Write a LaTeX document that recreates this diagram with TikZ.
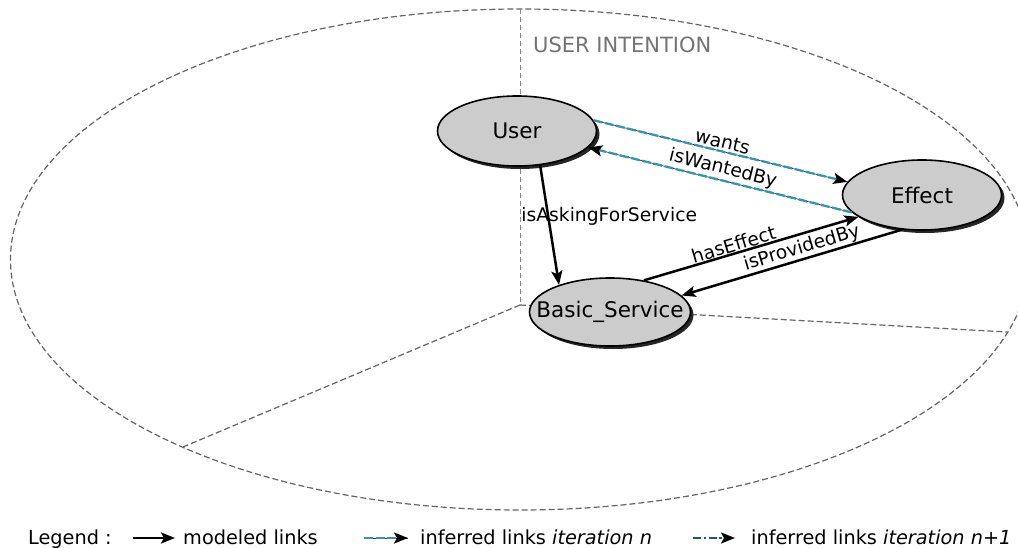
\documentclass[tikz,border=0pt]{standalone}
\usepackage{fontspec}
\setmainfont{DejaVu Sans}
\usetikzlibrary{shapes.geometric,arrows.meta,shadows}
\definecolor{nodegray}{RGB}{204,204,204}
\definecolor{zonegray}{RGB}{100,100,100}
\definecolor{zonelight}{RGB}{140,140,140}
\definecolor{titlegray}{RGB}{115,115,115}
\definecolor{inferblue}{RGB}{56,148,172}
\definecolor{infercore}{RGB}{40,60,70}
\definecolor{inferdark}{RGB}{30,90,105}
\begin{document}
\begin{tikzpicture}[x=1pt,y=-1pt,
  entity/.style={ellipse, draw=black, line width=1.6pt, fill=nodegray,
    minimum width=159pt, minimum height=70pt, inner sep=0pt,
    font=\fontsize{21.5}{25}\selectfont,
    drop shadow={shadow xshift=3pt, shadow yshift=-3pt, opacity=1, fill=black!85}},
  tipA/.style={-{Stealth[length=14pt,width=11pt,inset=3pt,color=black]}},
  modeled/.style={draw=black, line width=2.5pt, tipA},
  inferredn/.style={draw=inferblue, line width=2.3pt, dash pattern=on 9pt off 2.5pt, tipA,
    preaction={draw=infercore, line width=0.7pt, solid, arrows=-}},
  inferrednn/.style={draw=inferdark, line width=2.3pt, dash pattern=on 8pt off 2.5pt on 2.5pt off 2.5pt, tipA},
  zone/.style={draw=zonegray, line width=1.2pt, dash pattern=on 6pt off 3pt},
  zonev/.style={draw=zonelight, line width=1pt, dash pattern=on 5pt off 3pt},
  lbl/.style={font=\fontsize{18.7}{22}\selectfont, inner sep=1.5pt},
  leg/.style={font=\fontsize{19.3}{23}\selectfont, inner sep=0pt, anchor=base west}
]
\useasboundingbox (0,0) rectangle (1018,548);

% zones
\begin{scope}
  \clip (0,0) rectangle (1018,548);
  \draw[zone] (520,259.5) ellipse [x radius=509.5pt, y radius=250.5pt];
\end{scope}
\coordinate (zc) at (520,305);
\coordinate (ztop) at (520,9);
\coordinate (zleft) at (183,447);
\coordinate (zright) at (1007,332);
\draw[zonev] (ztop) -- (zc);
\draw[zone] (zc) -- (zleft);
\draw[zone] (zc) -- (zright);
\node[font=\fontsize{21}{25}\selectfont, text=titlegray, anchor=base west, inner sep=0pt] (title) at (533,53) {USER INTENTION};

% nodes
\node[entity] (user) at (517,131) {User};
\node[entity] (effect) at (922,195) {Effect};
\node[entity, minimum width=161pt, minimum height=68pt, inner xsep=-19pt] (bs) at (610,312) {Basic\_Service};

% links
\draw[inferredn] (user.8) -- node[lbl, sloped, above] (lwants) {wants} (effect.170);
\draw[inferredn] (effect.194) -- node[lbl, sloped, above] (lwanted) {isWantedBy} (user.-13);
\draw[modeled] (user.-56) -- node[lbl, pos=0.43, xshift=61pt] (lask) {isAskingForService} (bs.152);
\draw[modeled] (bs.43) -- node[lbl, sloped, above, pos=0.43, inner sep=0.5pt] (lhas) {hasEffect} (effect.199);
\draw[modeled] (effect.240) -- node[lbl, sloped, above, pos=0.44, inner sep=0.5pt] (lprov) {isProvidedBy} (bs.13);

% legend
\node[leg] (legtitle) at (28,544) {Legend :};
\coordinate (a1s) at (133,538); \coordinate (a1e) at (175,538);
\draw[modeled] (a1s) -- (a1e);
\node[leg] (leg1) at (183,544) {modeled links};
\coordinate (a2s) at (364,538); \coordinate (a2e) at (408,538);
\draw[inferredn] (a2s) -- (a2e);
\node[leg] (leg2) at (420,544) {inferred links \textit{iteration n}};
\coordinate (a3s) at (693,538); \coordinate (a3e) at (735,538);
\draw[inferrednn] (a3s) -- (a3e);
\node[leg] (leg3) at (751,544) {inferred links \textit{iteration n+1}};
\end{tikzpicture}
\end{document}
